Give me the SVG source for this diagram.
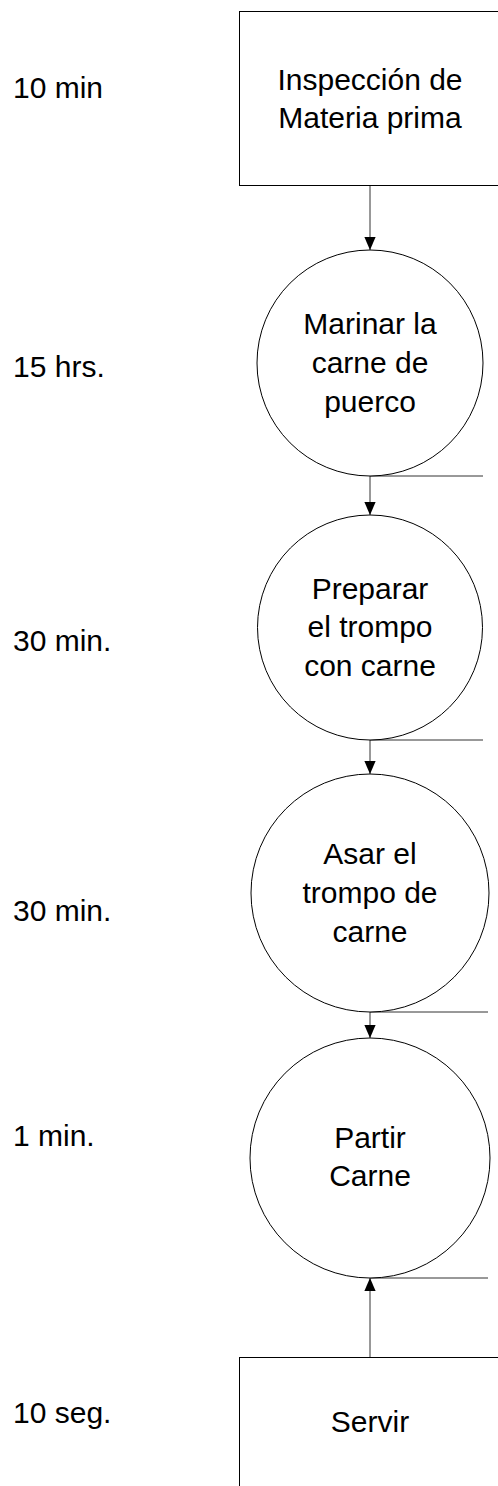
<svg xmlns="http://www.w3.org/2000/svg" width="498" height="1486" viewBox="0 0 498 1486">
<style>
.shape{fill:#fff;stroke:#000;stroke-width:1}
.conn{fill:none;stroke:#333;stroke-width:1}
text{font-family:"Liberation Sans",Arial,sans-serif;font-size:30px;fill:#000}
.c{text-anchor:middle}
</style>
<defs>
<marker id="ah" markerWidth="13" markerHeight="15" refX="15" refY="6.5" orient="auto" markerUnits="userSpaceOnUse" viewBox="0 0 15 13">
<path d="M0,0 L15,6.5 L0,13 Z" fill="#000"/>
</marker>
</defs>
<rect width="498" height="1486" fill="#fff"/>
<g id="connectors">
<line class="conn" x1="370" y1="186" x2="370" y2="250" marker-end="url(#ah)"/>
<line class="conn" x1="370" y1="476" x2="370" y2="515" marker-end="url(#ah)"/>
<line class="conn" x1="370" y1="740" x2="370" y2="774" marker-end="url(#ah)"/>
<line class="conn" x1="370" y1="1012" x2="370" y2="1038" marker-end="url(#ah)"/>
<line class="conn" x1="370" y1="1357" x2="370" y2="1278" marker-end="url(#ah)"/>
<line class="conn" x1="370" y1="476" x2="483" y2="476"/>
<line class="conn" x1="370" y1="740" x2="483" y2="740"/>
<line class="conn" x1="370" y1="1012" x2="488" y2="1012"/>
<line class="conn" x1="370" y1="1278" x2="488" y2="1278"/>
</g>
<g id="n1">
<rect class="shape" x="239.5" y="11.5" width="264" height="174"/>
<text class="c" x="370" y="90">Inspección de</text>
<text class="c" x="370" y="128">Materia prima</text>
</g>
<g id="n2">
<circle class="shape" cx="370" cy="363" r="113"/>
<text class="c" x="370" y="334">Marinar la</text>
<text class="c" x="370" y="373">carne de</text>
<text class="c" x="370" y="412">puerco</text>
</g>
<g id="n3">
<circle class="shape" cx="370" cy="627.5" r="112.5"/>
<text class="c" x="370" y="599">Preparar</text>
<text class="c" x="370" y="637">el trompo</text>
<text class="c" x="370" y="676">con carne</text>
</g>
<g id="n4">
<circle class="shape" cx="370" cy="893" r="119"/>
<text class="c" x="370" y="864">Asar el</text>
<text class="c" x="370" y="903">trompo de</text>
<text class="c" x="370" y="942">carne</text>
</g>
<g id="n5">
<circle class="shape" cx="370" cy="1158" r="120"/>
<text class="c" x="370" y="1148">Partir</text>
<text class="c" x="370" y="1186">Carne</text>
</g>
<g id="n6">
<rect class="shape" x="239.5" y="1357.5" width="264" height="140"/>
<text class="c" x="370" y="1432">Servir</text>
</g>
<g id="labels">
<text x="13" y="98">10 min</text>
<text x="13" y="377">15 hrs.</text>
<text x="13" y="651">30 min.</text>
<text x="13" y="921">30 min.</text>
<text x="13" y="1146">1 min.</text>
<text x="13" y="1423">10 seg.</text>
</g>
</svg>
